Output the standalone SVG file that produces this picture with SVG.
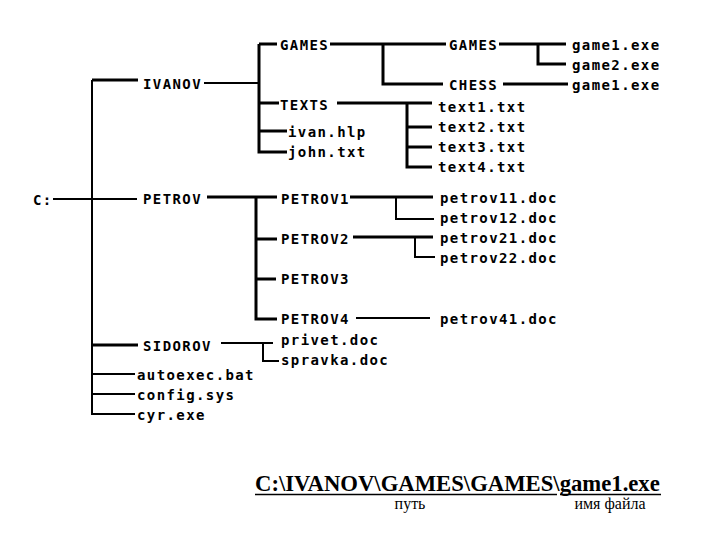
<svg xmlns="http://www.w3.org/2000/svg" width="720" height="540" viewBox="0 0 720 540">
<style>
.n{font-family:"DejaVu Sans Mono","Liberation Mono",monospace;font-size:14px;font-weight:bold;letter-spacing:1.4px;fill:#000}
.c path{fill:none;stroke:#000;stroke-linecap:butt;stroke-linejoin:miter}
.c .w{stroke-width:2}
.c .k{stroke-width:3}
.p{font-family:"Liberation Serif","Times New Roman",serif;font-weight:bold;font-size:22.7px;fill:#000}
.l{font-family:"Liberation Serif","Times New Roman",serif;font-size:16px;fill:#000;text-anchor:middle}
</style>
<rect width="720" height="540" fill="#fff"/>
<g id="connectors" class="c">
<path class="w" d="M92 80V414H135M92 374H135M92 394H135M53 199H137M204 83H259M356 318H430M221 343H273M263 343V361H279M396 197V219H434M415 237V257H435"/>
<path class="k" d="M138 80H92M92 345H138M259 44V152H287M259 44H277M330 44H446M383 44V84H443M259 103H279M337 103H432M407 103V167H432M407 127H432M407 147H432M259 131H287M499 44H566M538 44V64H566M503 84H568M207 197H277M256 197V319H277M256 239H277M256 279H276M350 197H433M353 237H433"/>
</g>
<g id="n-c"><text class="n" x="33" y="205">C:</text></g>
<g id="n-ivanov"><text class="n" x="143" y="89">IVANOV</text></g>
<g id="n-petrov"><text class="n" x="143" y="204">PETROV</text></g>
<g id="n-sidorov"><text class="n" x="143" y="351">SIDOROV</text></g>
<g id="n-autoexec"><text class="n" x="137" y="380">autoexec.bat</text></g>
<g id="n-config"><text class="n" x="137" y="400">config.sys</text></g>
<g id="n-cyr"><text class="n" x="137" y="420">cyr.exe</text></g>
<g id="n-games"><text class="n" x="280" y="50">GAMES</text></g>
<g id="n-texts"><text class="n" x="280" y="110">TEXTS</text></g>
<g id="n-ivanhlp"><text class="n" x="288" y="137">ivan.hlp</text></g>
<g id="n-johntxt"><text class="n" x="288" y="157">john.txt</text></g>
<g id="n-games2"><text class="n" x="449" y="50">GAMES</text></g>
<g id="n-chess"><text class="n" x="449" y="90">CHESS</text></g>
<g id="n-game1a"><text class="n" x="572" y="50">game1.exe</text></g>
<g id="n-game2"><text class="n" x="572" y="70">game2.exe</text></g>
<g id="n-game1b"><text class="n" x="572" y="90">game1.exe</text></g>
<g id="n-text1"><text class="n" x="438" y="112">text1.txt</text></g>
<g id="n-text2"><text class="n" x="438" y="132">text2.txt</text></g>
<g id="n-text3"><text class="n" x="438" y="152">text3.txt</text></g>
<g id="n-text4"><text class="n" x="438" y="172">text4.txt</text></g>
<g id="n-petrov1"><text class="n" x="281" y="204">PETROV1</text></g>
<g id="n-petrov2"><text class="n" x="281" y="244">PETROV2</text></g>
<g id="n-petrov3"><text class="n" x="281" y="284">PETROV3</text></g>
<g id="n-petrov4"><text class="n" x="281" y="324">PETROV4</text></g>
<g id="n-privet"><text class="n" x="281" y="345">privet.doc</text></g>
<g id="n-spravka"><text class="n" x="281" y="365">spravka.doc</text></g>
<g id="n-petrov11"><text class="n" x="440" y="203">petrov11.doc</text></g>
<g id="n-petrov12"><text class="n" x="440" y="223">petrov12.doc</text></g>
<g id="n-petrov21"><text class="n" x="440" y="243">petrov21.doc</text></g>
<g id="n-petrov22"><text class="n" x="440" y="263">petrov22.doc</text></g>
<g id="n-petrov41"><text class="n" x="440" y="324">petrov41.doc</text></g>
<g id="path-example">
<text class="p" x="255" y="491">C:\IVANOV\GAMES\GAMES\game1.exe</text>
<path d="M255 494.5H557M560 494.5H661" stroke="#000" stroke-width="1.5" fill="none"/>
<text class="l" x="410" y="509">путь</text>
<text class="l" x="610" y="509">имя файла</text>
</g>
</svg>
